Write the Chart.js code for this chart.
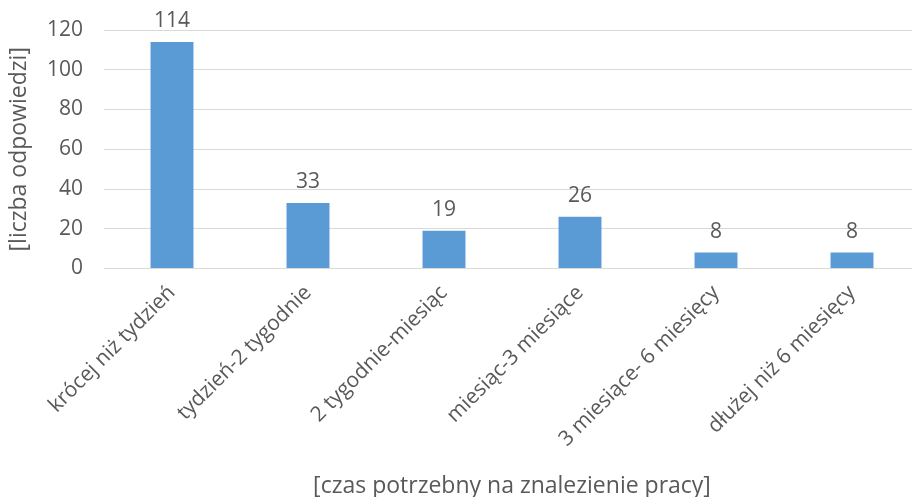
<!DOCTYPE html>
<html><head><meta charset="utf-8">
<script src="https://cdn.jsdelivr.net/npm/chart.js@4"></script>
<style>html,body{margin:0;padding:0;overflow:hidden;background:#fff}#wrap{width:920px;height:497px}</style>
</head><body><div id="wrap"><canvas id="c" width="920" height="497"></canvas></div>
<script>
const categories = ["krócej niż tydzień","tydzień-2 tygodnie","2 tygodnie-miesiąc","miesiąc-3 miesiące","3 miesiące- 6 miesięcy","dłużej niż 6 miesięcy"];
const values = [114, 33, 19, 26, 8, 8];
const yTicks = [0, 20, 40, 60, 80, 100, 120];
const xTitle = "[czas potrzebny na znalezienie pracy]";
const yTitle = "[liczba odpowiedzi]";

const FONT = "'Open Sans', sans-serif";
const TXT = '#595959';

const labelPlugin = {
  id: 'barLabels',
  afterDatasetsDraw(chart) {
    const ctx = chart.ctx;
    const meta = chart.getDatasetMeta(0);
    ctx.save();
    ctx.font = "21px " + FONT;
    ctx.fillStyle = TXT;
    ctx.textAlign = 'center';
    ctx.textBaseline = 'alphabetic';
    meta.data.forEach((bar, i) => {
      ctx.fillText(String(values[i]), bar.x, bar.y - 15);
    });
    ctx.restore();
  }
};

new Chart(document.getElementById('c'), {
  type: 'bar',
  data: { labels: categories, datasets: [{ data: values, backgroundColor: '#5B9BD5', barPercentage: 0.316, categoryPercentage: 1 }] },
  options: {
    responsive: false, animation: false,
    layout: { padding: { top: 30, left: 6, right: 0, bottom: 0 } },
    plugins: { legend: { display: false }, tooltip: { enabled: false } },
    scales: {
      x: {
        grid: { display: false }, border: { display: false },
        ticks: { color: TXT, font: { family: FONT, size: 21 }, minRotation: 45, maxRotation: 45, padding: 4 },
        title: { display: true, text: xTitle, color: TXT, font: { family: FONT, size: 23 }, padding: { top: 0, bottom: -3 } },
        afterFit(s) { s.height = 228.5; }
      },
      y: {
        min: 0, max: 120,
        afterBuildTicks(s) { s.ticks = yTicks.map(v => ({ value: v })); },
        grid: { color: '#D9D9D9', lineWidth: 1, drawTicks: false }, border: { display: false },
        ticks: { color: TXT, font: { family: FONT, size: 21 }, padding: 21 },
        title: { display: true, text: yTitle, color: TXT, font: { family: FONT, size: 23 }, padding: 0 },
        afterFit(s) { s.width = 98; s.paddingTop = 0; s.paddingBottom = 0; }
      }
    }
  },
  plugins: [labelPlugin]
});
</script></body></html>
